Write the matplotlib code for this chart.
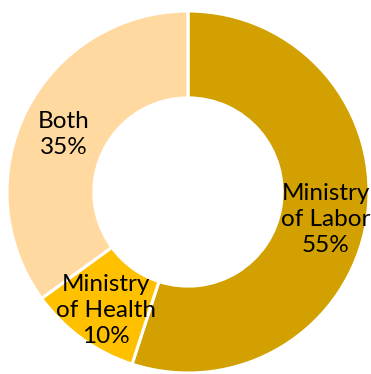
import numpy as np
import matplotlib.pyplot as plt

labels = ["Ministry\nof Labor", "Ministry\nof Health", "Both"]
shares = [55, 10, 35]
colors = ["#D2A000", "#FFC000", "#FFD9A0"]

fig = plt.figure(figsize=(3.71, 3.74), dpi=100)
ax = fig.add_axes([7 / 371, 1 / 374, 362 / 371, 362 / 374])

wedges, _ = ax.pie(shares, colors=colors, startangle=90, counterclock=False,
                   radius=1.0, wedgeprops=dict(width=0.48, edgecolor="white", linewidth=2.2))

r_lab = 0.77
for w, lab, val in zip(wedges, labels, shares):
    ang = np.deg2rad((w.theta1 + w.theta2) / 2)
    ax.text(r_lab * np.cos(ang), r_lab * np.sin(ang) - 0.03, f"{lab}\n{val}%",
            ha="center", va="center", fontsize=17.5, family="Lato",
            linespacing=1.3, color="black")

ax.set_xlim(-1, 1)
ax.set_ylim(-1, 1)
ax.set_aspect("equal")
ax.axis("off")
fig.savefig("out.png", dpi=100)
